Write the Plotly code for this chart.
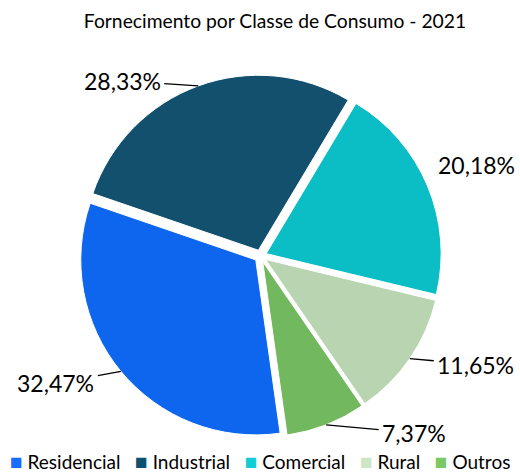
import math
import plotly.graph_objects as go

categories = ["Residencial", "Industrial", "Comercial", "Rural", "Outros"]
values = [32.47, 28.33, 20.18, 11.65, 7.37]
colors = ["#0f66ee", "#13506d", "#0bbec6", "#b8d4b0", "#72b85e"]
legend_colors = ["#1a6cff", "#0b5170", "#12ccd6", "#cde6c5", "#7bc865"]
title_text = "Fornecimento por Classe de Consumo - 2021"

W, H = 520, 473
ROT = 172
PULL = 0.035
R = 175
CX, CY = 260.5, 256  # pixel centre of pie

half = R * (1 + PULL)
dom_x = [(CX - half) / W, (CX + half) / W]
dom_y = [1 - (CY + half) / H, 1 - (CY - half) / H]

fig = go.Figure(go.Pie(
    labels=categories, values=values, sort=False, direction="clockwise",
    rotation=ROT, pull=[PULL] * len(values),
    marker=dict(colors=colors, line=dict(color="white", width=1)),
    textinfo="none", hoverinfo="label+percent",
    domain=dict(x=dom_x, y=dom_y), showlegend=False,
))

# label offsets (pixels) from each slice's outer edge
offsets = [(-65, 12), (-76, -5), (49, -21), (66, 6), (88, 8)]
show_line = [True, True, False, True, True]

total = sum(values)
cum = 0
anns = []
for v, (ox, oy), sl in zip(values, offsets, show_line):
    mid = ROT + 360 * (cum + v / 2) / total
    cum += v
    a = math.radians(mid)
    rr = R * (1 + PULL)
    px = CX + rr * math.sin(a)
    py = CY - rr * math.cos(a)
    anns.append(dict(
        x=px / W, y=1 - py / H, xref="paper", yref="paper",
        text=f"{v:.2f}%".replace(".", ","),
        showarrow=True, arrowhead=0, arrowwidth=1.3,
        arrowcolor="black" if sl else "rgba(0,0,0,0)",
        ax=ox, ay=oy, font=dict(size=23, color="black", family="Lato"),
        standoff=0, startstandoff=2,
    ))

# legend drawn as a single line of text with coloured squares
sp = "\u00a0"
parts = []
for c, lab in zip(legend_colors, categories):
    parts.append(f"<span style='color:{c};font-size:21px'>\u25a0</span>{sp}{lab}")
legend_text = (sp * 3).join(parts)
anns.append(dict(
    x=0.5, y=1 - 460 / H, xref="paper", yref="paper", xanchor="center",
    yanchor="middle", showarrow=False, text=legend_text,
    font=dict(size=19, color="black", family="Lato"),
))

fig.update_layout(
    width=W, height=H,
    margin=dict(l=0, r=0, t=0, b=0),
    paper_bgcolor="white",
    font=dict(family="Lato", color="black"),
    title=dict(text=title_text,
               x=275 / W, xanchor="center", y=1 - 21 / H, yanchor="middle",
               font=dict(size=19.3, color="black", family="Lato")),
    showlegend=False,
    annotations=anns,
)

fig.write_html("out.html", config={"displayModeBar": False},
               post_script="document.body.style.margin='0';")
